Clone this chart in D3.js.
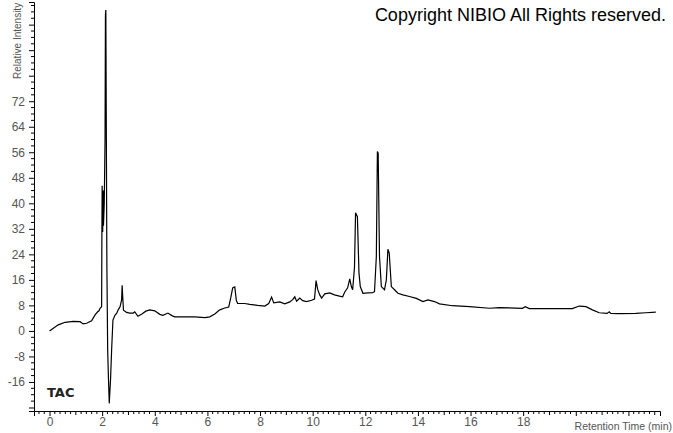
<!DOCTYPE html>
<html><head><meta charset="utf-8">
<script src="https://cdn.jsdelivr.net/npm/d3@7"></script>
<style>body{margin:0;background:#fff}svg{display:block}</style>
</head><body>
<script>
// Retention time (min)
const times = [0,0.33,0.59,0.90,1.16,1.28,1.41,1.60,1.73,1.83,1.88,1.92,1.98,1.99,2.00,2.02,2.04,2.05,2.08,2.11,2.125,2.14,2.16,2.18,2.21,2.24,2.27,2.32,2.36,2.41,2.49,2.55,2.61,2.68,2.74,2.76,2.78,2.81,2.93,3.05,3.18,3.24,3.36,3.51,3.66,3.81,4.00,4.19,4.31,4.50,4.65,4.76,5.14,5.52,5.90,6.09,6.28,6.47,6.66,6.81,6.89,6.96,7.04,7.10,7.15,7.42,7.61,7.91,8.18,8.33,8.44,8.52,8.75,8.94,9.13,9.24,9.32,9.39,9.51,9.62,9.77,9.96,10.07,10.13,10.19,10.27,10.34,10.46,10.65,10.83,11.02,11.14,11.22,11.33,11.41,11.47,11.52,11.59,11.63,11.70,11.76,11.81,11.91,12.09,12.28,12.35,12.42,12.46,12.49,12.54,12.61,12.73,12.80,12.86,12.91,12.99,13.11,13.24,13.43,13.68,13.94,14.19,14.38,14.63,14.82,15.31,15.96,16.72,17.10,17.97,18.08,18.23,19.87,20.13,20.39,20.63,20.89,21.19,21.27,21.33,21.64,22.28,22.66,23.04];
// Relative intensity
const intensity = [0,1.9,2.7,3.0,2.9,2.2,2.4,3.2,5.0,6.0,6.3,7.1,7.6,30,45.5,31,44,33,40,60,99,100.6,60,20,-6,-15,-22.7,-15,-6,3.4,5.0,5.5,6.6,7.6,9.7,14.3,11,6.5,5.8,5.6,5.6,6.0,4.6,5.3,6.2,6.6,6.3,5.2,4.9,5.6,4.8,4.4,4.4,4.4,4.2,4.4,5.3,6.6,7.2,7.5,10.5,13.5,13.8,9.5,8.6,8.6,8.3,8.0,7.8,8.6,10.6,8.8,9.1,8.5,9.1,9.8,10.7,9.3,10.3,9.5,9.2,9.6,10.0,15.8,13.0,11.3,10.3,11.6,11.9,11.3,10.9,10.7,12.2,13.5,16.3,13.9,12.9,20,37,35.8,18.2,13.9,11.8,11.9,12.0,12.3,23.3,56.2,55.7,23.3,13.9,12.9,16,25.6,24.4,13.9,12.9,11.8,11.3,10.8,10.2,9.2,9.7,9.2,8.5,7.9,7.6,7.1,7.3,7.1,7.6,7.0,7.0,7.8,7.6,6.6,5.7,5.5,6.0,5.5,5.4,5.5,5.7,5.9];
const xTickLabels = [0,2,4,6,8,10,12,14,16,18];
const yTickLabels = [-16,-8,0,8,16,24,32,40,48,56,64,72];
const xAxisTitle = "Retention Time (min)";
const yAxisTitle = "Relative Intensity";
const traceName = "TAC";
const copyright = "Copyright NIBIO All Rights reserved.";

const W = 673, H = 433;
const svg = d3.select("body").append("svg").attr("width", W).attr("height", H);

const x = d3.scaleLinear().domain([-0.59, 23.2]).range([34, 660]);
const y = d3.scaleLinear().domain([-25.1, 103.1]).range([411, 2]);
const font = "Liberation Sans, Arial, sans-serif";
const grey = "#555";

// Y axis
const yAxis = d3.axisLeft(y).tickValues(d3.range(-24, 104, 8)).tickSize(5)
  .tickFormat(d => yTickLabels.includes(d) ? d : "");
const gy = svg.append("g").attr("transform", "translate(34,0)").call(yAxis);
gy.selectAll("text").attr("font-family", font).attr("font-size", 12).attr("fill", grey).attr("x", -9);
gy.append("g").selectAll("line").data(d3.range(-24, 103, 2).filter(d => d % 8 !== 0))
  .join("line").attr("x1", -3).attr("x2", 0).attr("y1", d => y(d)).attr("y2", d => y(d)).attr("stroke", "#000");

// X axis
const xAxis = d3.axisBottom(x).tickValues(d3.range(0, 24, 2)).tickSize(5)
  .tickFormat(d => xTickLabels.includes(d) ? d : "");
const gx = svg.append("g").attr("transform", "translate(0,411)").call(xAxis);
gx.selectAll("text").attr("font-family", font).attr("font-size", 12).attr("fill", grey).attr("dy", "0.55em");
gx.append("g").selectAll("line").data(d3.range(-0.4, 23.2, 0.2).filter(d => Math.abs(d/2 - Math.round(d/2)) > 0.01))
  .join("line").attr("x1", d => x(d)).attr("x2", d => x(d)).attr("y1", 0)
  .attr("y2", d => Math.abs(d - Math.round(d)) < 0.01 ? 4 : 3).attr("stroke", "#000");
svg.selectAll(".domain").attr("stroke", "#000");
svg.selectAll(".tick line").attr("stroke", "#000");

// Trace
const pts = times.map((t, i) => [t, intensity[i]]);
svg.append("path").datum(pts)
  .attr("d", d3.line().x(d => x(d[0])).y(d => y(d[1])))
  .attr("fill", "none").attr("stroke", "#000").attr("stroke-width", 1.2);

// Titles
svg.append("text").attr("x", 672).attr("y", 430).attr("text-anchor", "end")
  .attr("font-family", font).attr("font-size", 10.5).attr("fill", grey).text(xAxisTitle);
svg.append("text").attr("transform", "translate(21,79) rotate(-90)")
  .attr("font-family", font).attr("font-size", 10).attr("fill", grey).text(yAxisTitle);
svg.append("text").attr("x", 47).attr("y", 397).attr("font-family", "DejaVu Sans, sans-serif")
  .attr("font-weight", "bold").attr("font-size", 13).attr("fill", "#222").text(traceName);
svg.append("text").attr("x", 666).attr("y", 21).attr("text-anchor", "end")
  .attr("font-family", font).attr("font-size", 18).attr("fill", "#000").text(copyright);
</script>
</body></html>
